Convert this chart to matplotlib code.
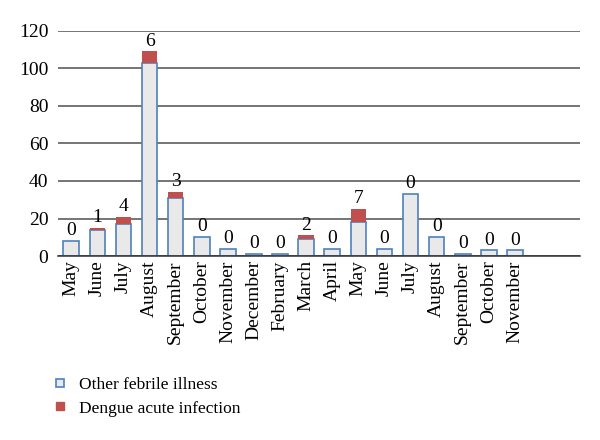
import matplotlib.pyplot as plt
from matplotlib.lines import Line2D
import numpy as np

plt.rcParams['font.family'] = ['Liberation Serif', 'DejaVu Serif']

# months (May of year 1 through November of year 2)
months = ["May", "June", "July", "August", "September", "October", "November",
          "December", "February", "March", "April", "May", "June", "July",
          "August", "September", "October", "November"]
other_febrile = [8, 14, 17, 103, 31, 10, 4, 1, 1, 9, 4, 18, 4, 33, 10, 1, 3, 3]
dengue = [0, 1, 4, 6, 3, 0, 0, 0, 0, 2, 0, 7, 0, 0, 0, 0, 0, 0]

blue = "#4f81bd"
red = "#c0504d"

fig = plt.figure(figsize=(6, 4.4), dpi=100)
ax = fig.add_axes([0.097, 0.418, 0.870, 0.512])

x = np.arange(len(months))
ax.bar(x, other_febrile, width=0.6, color="#e9e9e9", edgecolor=blue,
       linewidth=1.2, zorder=3)
ax.bar(x, dengue, width=0.6, bottom=other_febrile, color=red,
       linewidth=0, zorder=3)

# data labels: dengue counts above each bar
for xi, b, d in zip(x, other_febrile, dengue):
    ax.text(xi, b + d + 1.0, str(d), ha="center", va="bottom", fontsize=14,
            zorder=4)

ax.set_xlim(-0.5, 19.5)
ax.set_ylim(0, 120)
ax.set_yticks(range(0, 121, 20))
ax.yaxis.grid(True, color="#505050", linewidth=1.1, zorder=0)
ax.set_xticks(x)
ax.set_xticklabels(months, rotation=90, fontsize=14)
ax.tick_params(axis="both", length=0, labelsize=14, pad=3)
ax.tick_params(axis="y", pad=7)
for s in ["top", "right", "left"]:
    ax.spines[s].set_visible(False)
ax.spines["bottom"].set_color("#303030")
ax.spines["bottom"].set_linewidth(1.1)
ax.spines["bottom"].set_zorder(5)

handles = [
    Line2D([], [], linestyle="none", marker="s", markersize=6,
           markerfacecolor="#e9e9e9", markeredgecolor=blue, markeredgewidth=1.2),
    Line2D([], [], linestyle="none", marker="s", markersize=6,
           markerfacecolor=red, markeredgecolor=red),
]
fig.legend(handles, ["Other febrile illness", "Dengue acute infection"],
           loc="upper left", bbox_to_anchor=(0.06, 0.18), frameon=False,
           fontsize=12.5, handlelength=1.0, handletextpad=0.6, labelspacing=0.45)

fig.savefig("out.png", dpi=100)
